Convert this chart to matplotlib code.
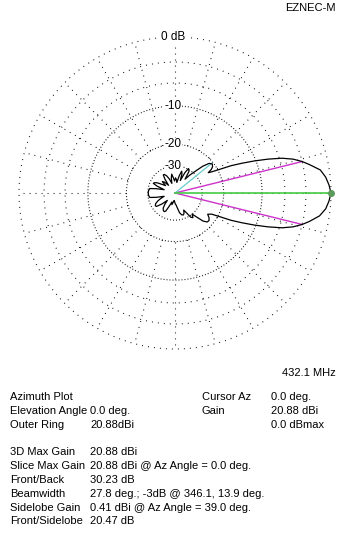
import numpy as np
import matplotlib
matplotlib.use("Agg")
import matplotlib.pyplot as plt

plt.rcParams["font.family"] = ["Liberation Sans", "DejaVu Sans"]

# azimuth pattern, relative gain (dBmax)
main_az = [0, 3, 6, 9, 12, 13.9, 16, 18, 20, 22, 24, 26, 28, 30, 31.4, 33, 35, 38, 41, 44]
main_db = [0.0, -0.2, -0.5, -1.0, -2.2, -3.0, -4.1, -5.6, -7.8, -10.3, -13.0, -15.8, -19.5,
           -22.4, -23.8, -22.0, -21.0, -20.5, -21.3, -24.0]

upper_az = [47, 50.7, 54, 57, 61, 64, 67, 70, 73, 76, 80, 84, 88, 92, 96, 100, 104, 108,
            112, 116, 120, 123, 126, 130, 134, 138, 142, 146, 150, 153, 156, 159, 163, 167,
            170, 175, 180]
upper_db = [-28.5, -33.0, -38.0, -31.0, -29.5, -33.0, -42.0, -35.0, -33.0, -37.0, -46.0,
            -42.0, -40.0, -44.0, -40.0, -36.0, -40.0, -47.0, -40.0, -36.0, -34.0, -34.0,
            -38.0, -47.0, -40.0, -38.0, -44.0, -40.0, -35.0, -33.0, -32.3, -36.0, -45.0,
            -36.0, -31.0, -30.4, -30.23]

lower_az = [185, 190, 193, 197, 201, 205, 209, 213, 216, 220, 224, 228, 232, 236, 240, 243,
            247, 251, 255, 259, 263, 267, 271, 275, 279, 283, 287, 291, 294, 297, 300, 303,
            306, 309, 312, 315, 318, 321, 324, 327]
lower_db = [-30.4, -31.0, -36.0, -45.0, -40.0, -36.0, -33.5, -32.5, -33.0, -38.0, -46.0,
            -40.0, -36.0, -34.5, -34.0, -35.0, -42.0, -48.0, -44.0, -48.0, -52.0, -50.0,
            -46.0, -44.0, -40.0, -35.0, -33.0, -32.5, -33.5, -36.0, -33.0, -29.0, -28.0,
            -30.0, -27.0, -23.5, -22.0, -21.8, -22.5, -23.8]

back_az = [330, 332, 334, 336, 338, 340, 342, 344, 346.1, 348, 351, 354, 357, 360]
back_db = [-22.4, -19.5, -15.8, -13.0, -10.3, -7.8, -5.6, -4.1, -3.0, -2.2, -1.1, -0.5,
           -0.2, 0.0]

az_deg = main_az + upper_az + lower_az + back_az
gain_db = main_db + upper_db + lower_db + back_db
assert len(az_deg) == len(gain_db)

ring_db = [0, -3, -6, -10, -20, -30]
ring_labels = {0: "0 dB", -10: "-10", -20: "-20", -30: "-30"}
ray_step = 15

max_az = 0.0
bw_az = [346.1, 13.9]
bw_db = -3.0
side_az = 39.0
side_db = -20.47

left_rows = [("Azimuth Plot", ""), ("Elevation Angle", "0.0 deg."), ("Outer Ring", "20.88dBi")]
right_rows = [("Cursor Az", "0.0 deg."), ("Gain", "20.88 dBi"), ("", "0.0 dBmax")]
stat_rows = [("3D Max Gain", "20.88 dBi"),
             ("Slice Max Gain", "20.88 dBi @ Az Angle = 0.0 deg."),
             ("Front/Back", "30.23 dB"),
             ("Beamwidth", "27.8 deg.; -3dB @ 346.1, 13.9 deg."),
             ("Sidelobe Gain", "0.41 dBi @ Az Angle = 39.0 deg."),
             ("Front/Sidelobe", "20.47 dB")]


def arrl(db):
    # ARRL log scale: 0.89 per 2 dB
    return 0.89 ** (-np.asarray(db, dtype=float) / 2.0)


def xy(az, db):
    t = np.radians(np.asarray(az, dtype=float))
    r = arrl(db)
    return r * np.cos(t), r * np.sin(t)


W, H = 350, 538
fig = plt.figure(figsize=(W / 100, H / 100), dpi=100)
fig.patch.set_facecolor("white")

cx, cy, R = 175, 193, 156
lim = 1.06
half = R * lim
ax = fig.add_axes([(cx - half) / W, (H - cy - half) / H, 2 * half / W, 2 * half / H])
ax.set_xlim(-lim, lim)
ax.set_ylim(-lim, lim)
ax.axis("off")

t = np.linspace(0, 2 * np.pi, 721)
for db in ring_db:
    r = arrl(db)
    gap = 1.9 if db <= -10 else 4.6
    ax.plot(r * np.cos(t), r * np.sin(t), color="black", lw=0.8,
            dashes=(0.8, gap), zorder=1)

r_in = arrl(-20)
for a in range(0, 360, ray_step):
    c, s = np.cos(np.radians(a)), np.sin(np.radians(a))
    ax.plot([r_in * c, c], [r_in * s, s], color="black", lw=0.8,
            dashes=(0.8, 4.6), zorder=1)

for db, lab in ring_labels.items():
    ax.text(-0.01, arrl(db), lab, ha="center", va="center", fontsize=8.5,
            zorder=2, bbox=dict(facecolor="white", edgecolor="none", pad=0.3))

px, py = xy(az_deg, gain_db)
ax.plot(px, py, color="black", lw=0.9, zorder=4)

for a in bw_az:
    bx, by = xy(a, bw_db)
    ax.plot([0, bx], [0, by], color="#cc33cc", lw=1.0, zorder=3)
sx, sy = xy(side_az, side_db)
ax.plot([0, sx], [0, sy], color="#66cccc", lw=0.9, zorder=3)
mx, my = xy(max_az, 0.0)
ax.plot([0, mx], [0, my], color="#44cc44", lw=1.2, zorder=3)
ax.plot([mx], [my], "o", color="#5a9a5a", ms=4, zorder=5, clip_on=False)


def ftext(x, y, s, **kw):
    fig.text(x / W, 1 - y / H, s, va="center", fontsize=8, color="black", **kw)


ftext(336, 8, "EZNEC-M", ha="right")
ftext(336, 373, "432.1 MHz", ha="right")

y0 = 397
for i, (k, v) in enumerate(left_rows):
    ftext(10, y0 + 14 * i, k)
    ftext(90, y0 + 14 * i, v)
for i, (k, v) in enumerate(right_rows):
    ftext(202, y0 + 14 * i, k)
    ftext(271, y0 + 14 * i, v)

y1 = 452
for i, (k, v) in enumerate(stat_rows):
    ftext(10, y1 + 13.9 * i, k)
    ftext(90, y1 + 13.9 * i, v)

fig.savefig("out.png", dpi=100, facecolor="white")
